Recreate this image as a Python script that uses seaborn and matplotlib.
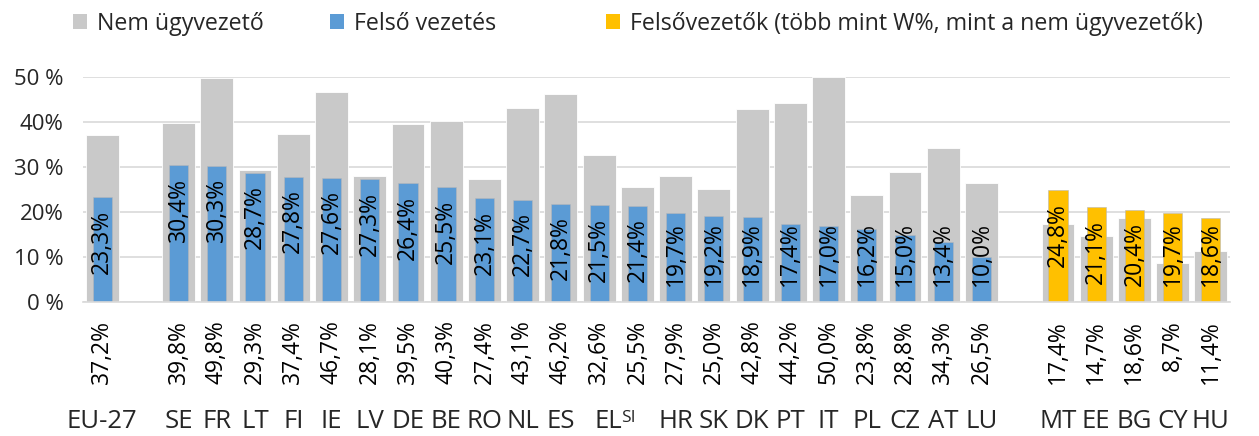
# Non-executive vs senior management share, by country
import numpy as np
import pandas as pd
import seaborn as sns
import matplotlib.pyplot as plt
from matplotlib.patches import Patch

# %%
# data
countries = ['EU-27', 'SE', 'FR', 'LT', 'FI', 'IE', 'LV', 'DE', 'BE', 'RO', 'NL', 'ES',
             'EL', 'SI', 'HR', 'SK', 'DK', 'PT', 'IT', 'PL', 'CZ', 'AT', 'LU',
             'MT', 'EE', 'BG', 'CY', 'HU']
non_exec = [37.2, 39.8, 49.8, 29.3, 37.4, 46.7, 28.1, 39.5, 40.3, 27.4, 43.1, 46.2,
            32.6, 25.5, 27.9, 25.0, 42.8, 44.2, 50.0, 23.8, 28.8, 34.3, 26.5,
            17.4, 14.7, 18.6, 8.7, 11.4]
senior = [23.3, 30.4, 30.3, 28.7, 27.8, 27.6, 27.3, 26.4, 25.5, 23.1, 22.7, 21.8,
          21.5, 21.4, 19.7, 19.2, 18.9, 17.4, 17.0, 16.2, 15.0, 13.4, 10.0,
          24.8, 21.1, 20.4, 19.7, 18.6]
highlight = ['MT', 'EE', 'BG', 'CY', 'HU']
ytick_vals = [0, 10, 20, 30, 40, 50]
ytick_labels = ['0 %', '10 %', '20%', '30 %', '40%', '50 %']
legend_labels = ['Nem ügyvezető', 'Felső vezetés',
                 'Felsővezetők (több mint W%, mint a nem ügyvezetők)']

# empty slots between the groups
order = ['EU-27', 'gap1'] + countries[1:23] + ['gap2'] + countries[23:]

df = pd.DataFrame({'country': countries, 'non_exec': non_exec, 'senior': senior})
df['group'] = np.where(df['country'].isin(highlight), 'hi', 'normal')

grey = '#C9C9C9'
blue = '#5B9BD5'
yellow = '#FFC000'

# %%
sns.set_style('white')
plt.rcParams['font.family'] = ['Open Sans', 'DejaVu Sans']

fig = plt.figure(figsize=(12.59, 4.36), dpi=100)
ax = fig.add_axes([83/1259, 1 - 302/436, (1230 - 83)/1259, 225/436])

sns.barplot(data=df, x='country', y='non_exec', order=order, color=grey,
            width=0.86, saturation=1, edgecolor='white', linewidth=0.6, ax=ax)
sns.barplot(data=df, x='country', y='senior', order=order, hue='group',
            palette={'normal': blue, 'hi': yellow}, dodge=False, width=0.5,
            saturation=1, edgecolor='#B8B8B8', linewidth=0.4, legend=False, ax=ax)

ax.set_ylim(0, 50)
ax.set_xlim(-0.5, len(order) - 0.5)
ax.set_yticks(ytick_vals)
ax.set_yticklabels(ytick_labels, fontsize=16)
ax.tick_params(axis='y', length=0, pad=14)
ax.set_xticks([])
ax.set_xlabel('')
ax.set_ylabel('')
ax.grid(axis='y', color='#D9D9D9', linewidth=1.2)
ax.set_axisbelow(True)
for s in ['top', 'right', 'left']:
    ax.spines[s].set_visible(False)
ax.spines['bottom'].set_color('#D9D9D9')
ax.spines['bottom'].set_linewidth(1.2)

def pct(v):
    return f'{v:.1f}%'.replace('.', ',')

for c, ne, se in zip(countries, non_exec, senior):
    i = order.index(c)
    # label inside the front bar
    ax.text(i, max(se - 2.8, 17.8), pct(se), rotation=90, ha='center', va='top',
            fontsize=16.5, color='black')
    # non-executive value under the axis
    ax.text(i, -4.0, pct(ne), rotation=90, ha='center', va='top',
            fontsize=16.5, color='black', clip_on=False)
    # country name ("SI" sits raised and small right after "EL", as in the source)
    if c == 'EL':
        ax.text(i + 0.25, -28.0, c, ha='center', va='baseline', fontsize=18.5,
                clip_on=False)
    elif c == 'SI':
        ax.text(i - 0.42, -26.6, c, ha='left', va='baseline', fontsize=12.5,
                clip_on=False)
    else:
        ax.text(i, -28.0, c, ha='center', va='baseline', fontsize=18.5,
                clip_on=False)

# legend, three entries spread across the top
for x0, col, lab in zip([73, 330, 606], [grey, blue, yellow], legend_labels):
    fig.legend(handles=[Patch(facecolor=col, edgecolor='none')], labels=[lab],
               loc='center left', bbox_to_anchor=(x0/1259, 1 - 24/436),
               frameon=False, fontsize=16.7, handlelength=0.62, handleheight=0.62,
               handletextpad=0.4, borderpad=0, borderaxespad=0)

fig.savefig('out.png', dpi=100)
